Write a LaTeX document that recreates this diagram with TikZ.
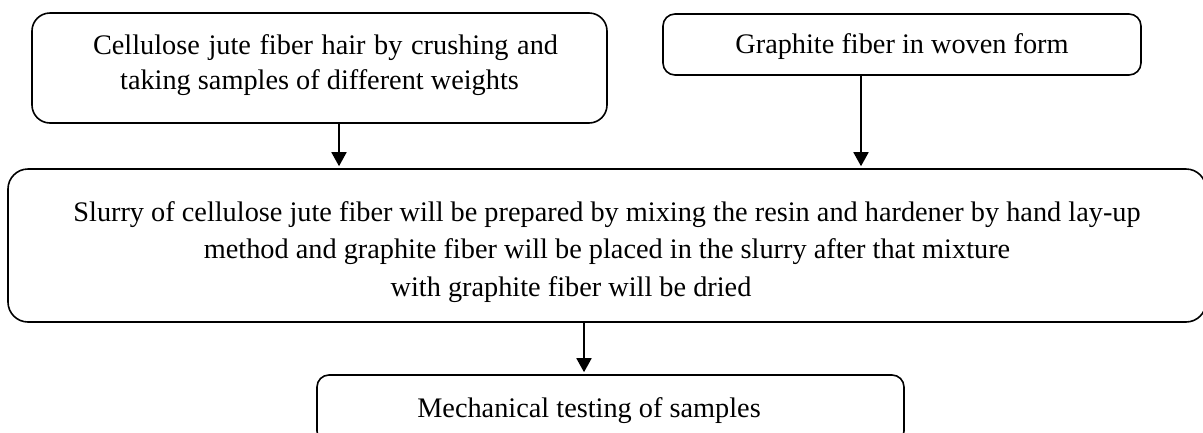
\documentclass[tikz,border=0pt]{standalone}
\usepackage{fontspec}
\setmainfont{Liberation Serif}
\usetikzlibrary{arrows.meta}
\begin{document}
\begin{tikzpicture}[x=1pt, y=-1pt,
        font=\fontsize{28.3}{37.5}\selectfont,
        box/.style={draw, line width=1.6pt, align=center, inner sep=0pt},
        arr/.style={-{Triangle[length=14pt, width=15pt]}, line width=1.8pt, shorten >=2pt}]
                \path[use as bounding box, clip] (0,0) rectangle (1203,432);

                \node (cellulose) [box, rounded corners=18pt, minimum width=575pt, minimum height=110pt,
                    font=\fontsize{28.3}{35}\selectfont] at (319.5, 68)
                    {\hspace*{12pt}\makebox[465pt][s]{Cellulose jute fiber hair by crushing and}\\
                     taking samples of different weights\rule[-12pt]{0pt}{0pt}};
                \node (graphite) [box, rounded corners=12pt, minimum width=478pt, minimum height=61pt] at (902, 44.5)
                    {\rule{0pt}{24pt}Graphite fiber in woven form};
                \node (slurry) [box, rounded corners=20pt, minimum width=1198pt, minimum height=153pt] at (607, 245.5)
                    {\rule{0pt}{33pt}Slurry of cellulose jute fiber will be prepared by mixing the resin and hardener by hand lay-up\\
                     method and graphite fiber will be placed in the slurry after that mixture\\
                     with graphite fiber will be dried\hspace*{72pt}};
                \node (testing) [box, rounded corners=12pt, minimum width=587pt, minimum height=68pt] at (610.5, 409)
                    {\rule{0pt}{24pt}Mechanical testing of samples\hspace*{43pt}};

                \coordinate (a) at (339, 0);
                \coordinate (b) at (861, 0);
                \coordinate (c) at (584, 0);

                \draw [arr] (cellulose.south -| a) -- (slurry.north -| a);
                \draw [arr] (graphite.south -| b) -- (slurry.north -| b);
                \draw [arr] (slurry.south -| c) -- (testing.north -| c);
            \end{tikzpicture}
\end{document}
